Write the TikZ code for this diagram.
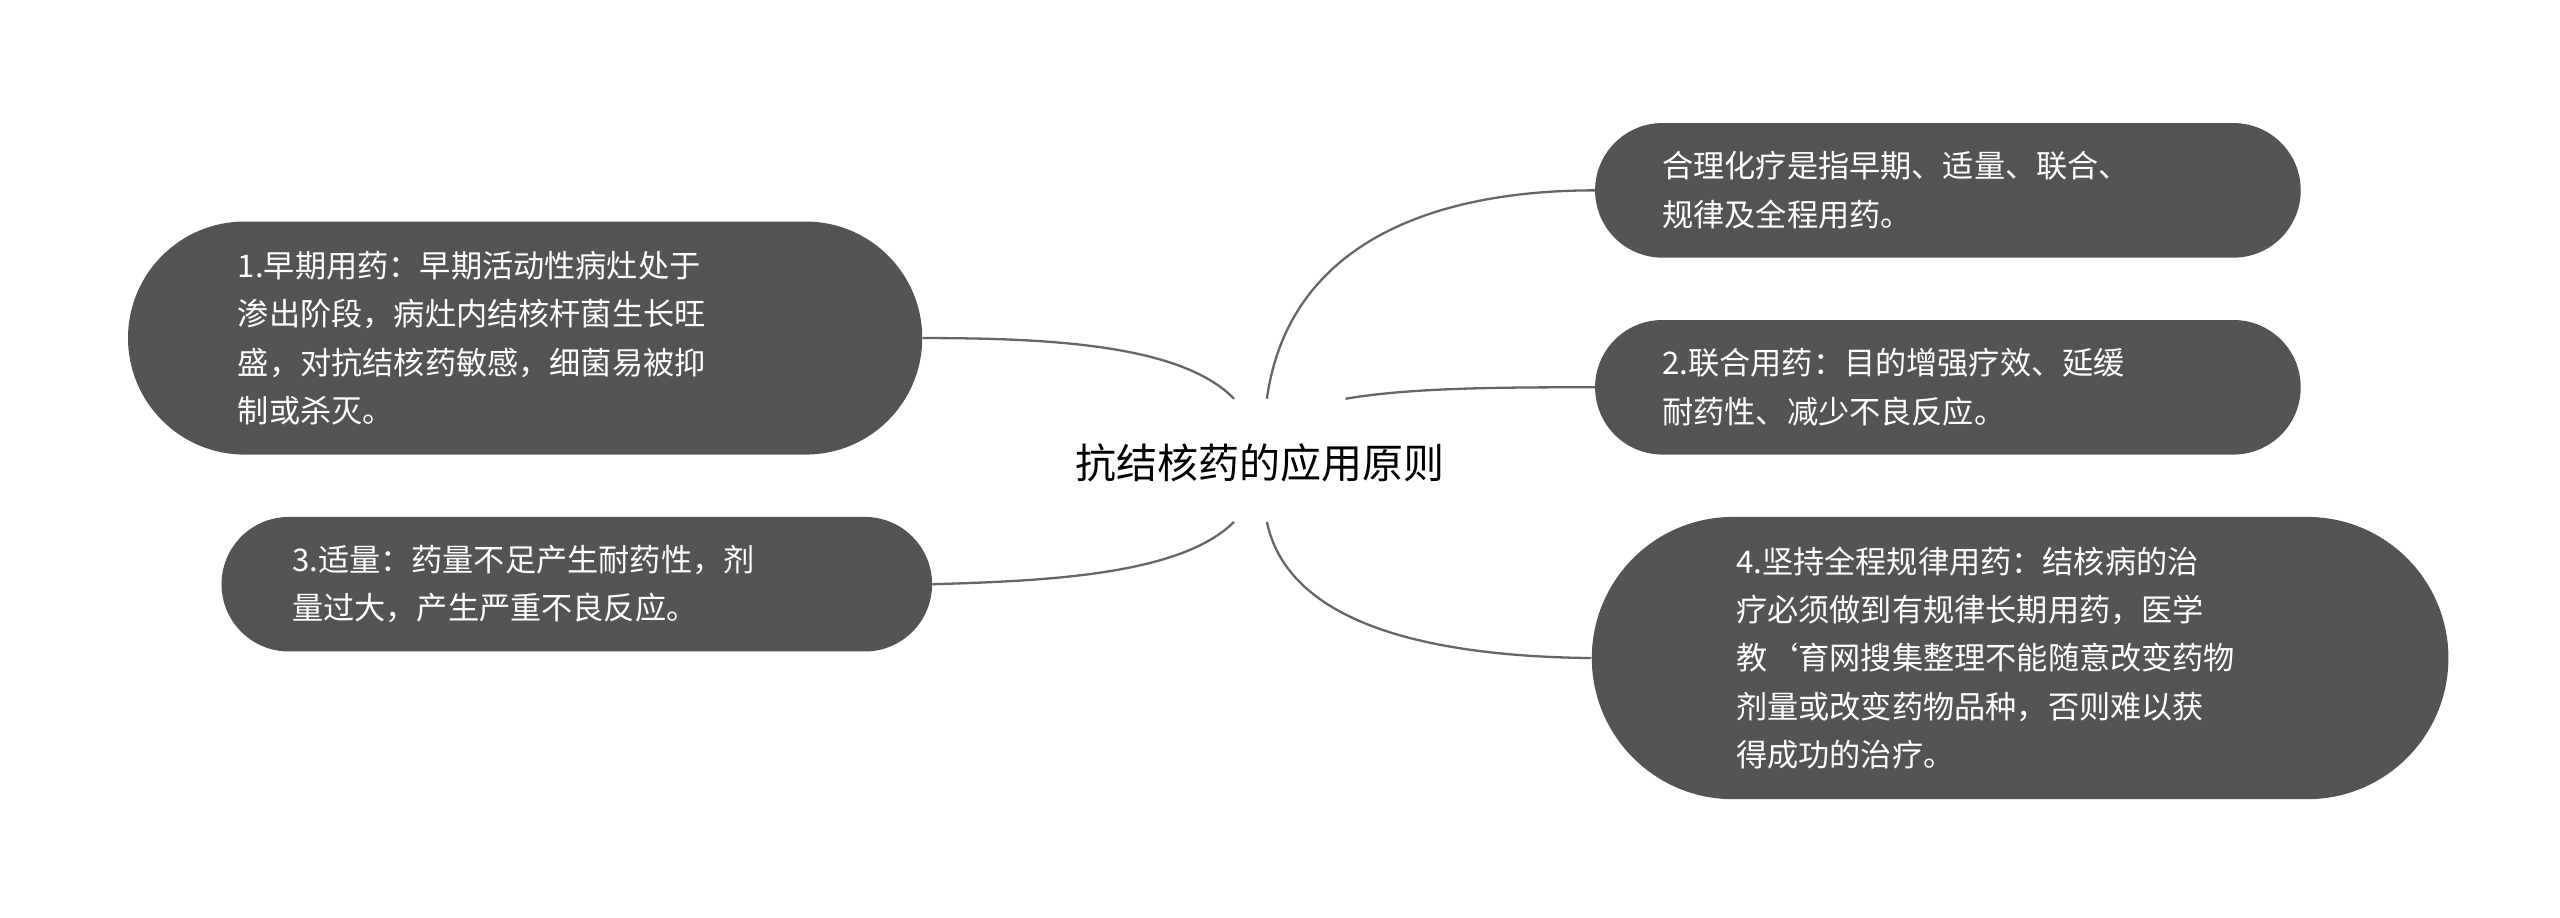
\documentclass[tikz,border=0pt]{standalone}
\usepackage{fontspec}
\setmainfont{Noto Sans CJK SC}
\begin{document}
\begin{tikzpicture}[x=1pt,y=-1pt,
  leaf/.style={fill=black!67,text=white,align=left,font=\fontsize{19}{29.5}\selectfont,inner ysep=0pt},
  link/.style={draw=black!60,line width=1.4pt}]
\useasboundingbox (0,0) rectangle (1560,559);
\node[font=\fontsize{25}{30}\selectfont] (c) at (768,282) {抗结核药的应用原则};
\node[leaf,text width=350pt,inner xsep=67pt,minimum height=142pt,rounded corners=71pt] (n1) at (320,206) {1.早期用药：早期活动性病灶处于\\渗出阶段，病灶内结核杆菌生长旺\\盛，对抗结核药敏感，细菌易被抑\\制或杀灭。};
\node[leaf,text width=347pt,inner xsep=43pt,minimum height=82pt,rounded corners=41pt] (n3) at (351.5,356) {3.适量：药量不足产生耐药性，剂\\量过大，产生严重不良反应。};
\node[leaf,text width=348pt,inner xsep=41pt,minimum height=82pt,rounded corners=41pt] (na) at (1187,116) {合理化疗是指早期、适量、联合、\\规律及全程用药。};
\node[leaf,text width=348pt,inner xsep=41pt,minimum height=82pt,rounded corners=41pt] (n2) at (1187,236) {2.联合用药：目的增强疗效、延缓\\耐药性、减少不良反应。};
\node[leaf,text width=346pt,inner xsep=88pt,minimum height=172pt,rounded corners=86pt] (n4) at (1231,401) {4.坚持全程规律用药：结核病的治\\疗必须做到有规律长期用药，医学\\教`育网搜集整理不能随意改变药物\\剂量或改变药物品种，否则难以获\\得成功的治疗。};
\coordinate (lt) at (752,243);
\coordinate (lb) at (752,318);
\coordinate (rt) at (772,243);
\coordinate (rm) at (820,243);
\coordinate (rb) at (772,318);
\draw[link] (lt) .. controls (720,210) and (640,206) .. (n1.east);
\draw[link] (lb) .. controls (720,350) and (640,354) .. (n3.east);
\draw[link] (rt) .. controls (785,150) and (870,116) .. (na.west);
\draw[link] (rm) .. controls (860,236) and (920,236) .. (n2.west);
\draw[link] (rb) .. controls (785,380) and (870,400) .. (n4.west);
\end{tikzpicture}
\end{document}
